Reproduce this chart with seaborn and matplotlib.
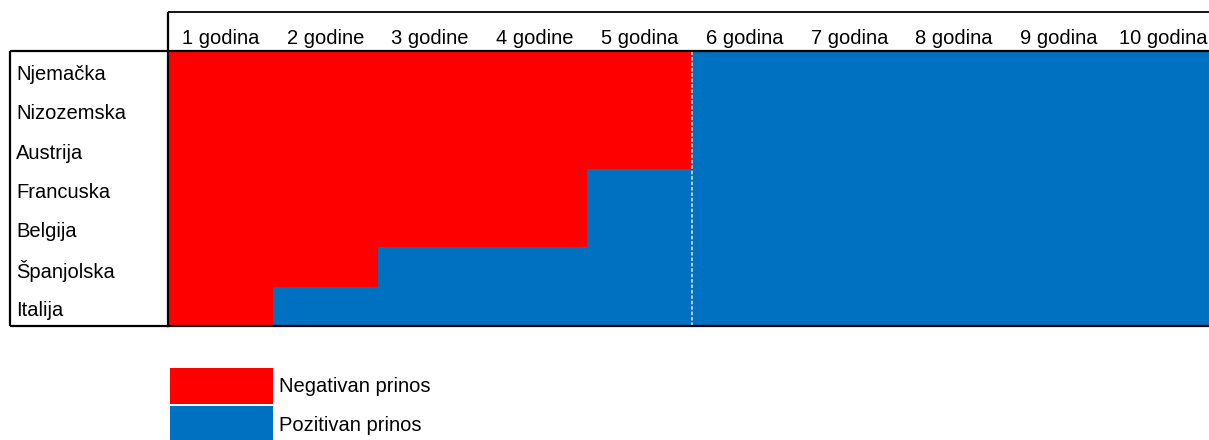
import numpy as np
import pandas as pd
import matplotlib
matplotlib.use('Agg')
import matplotlib.pyplot as plt
from matplotlib.colors import ListedColormap
from matplotlib.patches import Patch
from matplotlib.lines import Line2D
from matplotlib.transforms import ScaledTranslation
import seaborn as sns

# data: how many of the first holding periods gave a negative return
countries = ['Njemačka', 'Nizozemska', 'Austrija', 'Francuska', 'Belgija', 'Španjolska', 'Italija']
periods = ['1 godina', '2 godine', '3 godine', '4 godine', '5 godina',
           '6 godina', '7 godina', '8 godina', '9 godina', '10 godina']
negative_years = [5, 5, 5, 4, 4, 2, 1]
legend_labels = ['Negativan prinos', 'Pozitivan prinos']

red = '#FF0000'
blue = '#0070C0'

# 0 = negative, 1 = positive
grid = np.array([[0 if j < n else 1 for j in range(len(periods))] for n in negative_years])
df = pd.DataFrame(grid, index=countries, columns=periods)

sns.set_style('white')
plt.rcParams['font.family'] = ['Liberation Sans', 'DejaVu Sans']
plt.rcParams['text.color'] = 'black'
plt.rcParams['xtick.color'] = 'black'
plt.rcParams['ytick.color'] = 'black'
fs = 14.5

W, H = 1209, 440
fig = plt.figure(figsize=(W / 100, H / 100), dpi=100)

# heatmap area (10th column runs off the right edge like in the source)
x0, y_top, y_bot, col_w = 168, 51, 326, 104.8
ax = fig.add_axes([x0 / W, 1 - y_bot / H, 10 * col_w / W, (y_bot - y_top) / H])
sns.heatmap(df, ax=ax, cmap=ListedColormap([red, blue]), vmin=0, vmax=1,
            cbar=False, linewidths=0)

ax.xaxis.tick_top()
ax.set_xlabel('')
ax.set_ylabel('')
ax.set_xticklabels(periods, rotation=0, fontsize=fs, color='black')
ax.set_yticklabels(countries, rotation=0, fontsize=fs, ha='left', color='black')
ax.tick_params(axis='x', length=0, pad=2)
ax.tick_params(axis='y', length=0, pad=(x0 - 16) * 0.72)
shift = ScaledTranslation(0, -4 / 100, fig.dpi_scale_trans)
for lab in ax.get_yticklabels():
    lab.set_transform(lab.get_transform() + shift)

for side, sp in ax.spines.items():
    sp.set_visible(True)
    sp.set_color('black')
    sp.set_linewidth(1.6)

# light divider between 5th and 6th column
ax.axvline(5, color='#d0d0d0', lw=1.3, ls=(0, (2, 1)))

# table borders around header and row labels
def fline(xs, ys, lw=1.6):
    fig.add_artist(Line2D([x / W for x in xs], [1 - y / H for y in ys],
                          color='black', lw=lw, solid_capstyle='butt'))

fline([x0, W], [12, 12], lw=1.3)
fline([x0, x0], [12, y_top])
fline([10, x0], [y_top, y_top])
fline([10, 10], [y_top, y_bot])
fline([10, x0], [y_bot, y_bot])

handles = [Patch(facecolor=red, edgecolor='none'), Patch(facecolor=blue, edgecolor='none')]
leg = fig.legend(handles, legend_labels, loc='upper left', bbox_to_anchor=(170 / W, 1 - 368 / H),
                 frameon=False, fontsize=fs, borderpad=0, borderaxespad=0,
                 handlelength=5.1, handleheight=2.37, labelspacing=0.12, handletextpad=0.3)
for t in leg.get_texts():
    t.set_color('black')

fig.savefig('out.png', dpi=100)
